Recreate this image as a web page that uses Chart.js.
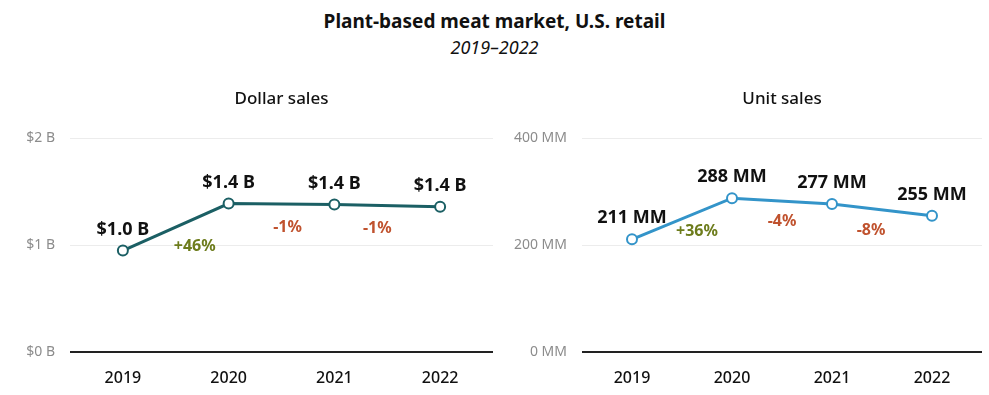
<!DOCTYPE html>
<html>
<head>
<meta charset="utf-8">
<script src="https://cdn.jsdelivr.net/npm/chart.js@4.4.1/dist/chart.umd.min.js"></script>
<style>
  body { margin: 0; background: #fff; font-family: "Noto Sans", sans-serif; }
  #wrap { position: relative; width: 989px; height: 395px; overflow: hidden; }
  .head { position: absolute; left: 0; width: 989px; text-align: center; color: #111; }
  #title { top: 8px; font-size: 19px; font-weight: 700; }
  #sub { top: 35px; font-size: 18px; font-style: italic; }
  .panel { position: absolute; top: 70px; height: 325px; }
</style>
</head>
<body>
<div id="wrap">
  <div class="head" id="title">Plant-based meat market, U.S. retail</div>
  <div class="head" id="sub">2019–2022</div>
  <div class="panel" style="left:0;width:500px"><canvas id="dollars"></canvas></div>
  <div class="panel" style="left:500px;width:489px"><canvas id="units"></canvas></div>
</div>
<script>
// data
const years = ["2019", "2020", "2021", "2022"];
const dollarSales = [0.95, 1.39, 1.38, 1.36];        // $ billions
const dollarLabels = ["$1.0 B", "$1.4 B", "$1.4 B", "$1.4 B"];
const dollarChange = ["+46%", "-1%", "-1%"];
const unitSales = [211, 288, 277, 255];              // millions of units
const unitLabels = ["211 MM", "288 MM", "277 MM", "255 MM"];
const unitChange = ["+36%", "-4%", "-8%"];

const FONT = "'Noto Sans', sans-serif";
const GREEN = "#6d7c1c";
const RED = "#c0522e";

// value labels above the points, % change under each segment
const pointLabels = {
  id: "pointLabels",
  afterDatasetsDraw(chart, args, opts) {
    const ctx = chart.ctx;
    const pts = chart.getDatasetMeta(0).data;
    ctx.save();
    ctx.textAlign = "center";
    ctx.textBaseline = "middle";
    ctx.font = "700 18px " + FONT;
    ctx.fillStyle = "#111";
    pts.forEach((p, i) => ctx.fillText(opts.values[i], p.x, p.y - 21));
    ctx.font = "700 16px " + FONT;
    for (let i = 0; i < pts.length - 1; i++) {
      const mx = (pts[i].x + pts[i + 1].x) / 2;
      const my = (pts[i].y + pts[i + 1].y) / 2;
      ctx.fillStyle = opts.changes[i].startsWith("+") ? GREEN : RED;
      ctx.fillText(opts.changes[i], mx + opts.dx[i], my + opts.dy[i]);
    }
    ctx.restore();
  }
};

function makeChart(id, name, data, color, max, step, fmt, values, changes, dx, dy, axisW, padRight) {
  return new Chart(id, {
    type: "line",
    data: {
      labels: years,
      datasets: [{
        data: data,
        borderColor: color,
        borderWidth: 3,
        pointBackgroundColor: "#fff",
        pointBorderColor: color,
        pointBorderWidth: 2,
        pointRadius: 5,
        tension: 0
      }]
    },
    options: {
      responsive: true,
      maintainAspectRatio: false,
      animation: false,
      layout: { padding: { left: 0, right: padRight, bottom: 0 } },
      plugins: {
        legend: { display: false },
        tooltip: { enabled: false },
        title: {
          display: true,
          text: name,
          fullSize: false,
          color: "#111",
          font: { family: FONT, size: 17, weight: "500" },
          padding: { top: 19, bottom: 29 }
        },
        pointLabels: { values: values, changes: changes, dx: dx, dy: dy }
      },
      scales: {
        x: {
          offset: true,
          grid: { display: false },
          border: { display: false },
          afterFit: s => { s.height = 43; },
          ticks: { color: "#111", font: { family: FONT, size: 16, weight: "500" }, padding: 9 }
        },
        y: {
          min: 0,
          max: max,
          border: { display: false },
          afterFit: s => { s.width = axisW; },
          grid: {
            drawTicks: false,
            color: c => c.tick.value === 0 ? "#222" : "#ececec",
            lineWidth: c => c.tick.value === 0 ? 2 : 1
          },
          ticks: {
            stepSize: step,
            padding: 15,
            color: "#8c8c8c",
            font: { family: FONT, size: 14 },
            callback: fmt
          }
        }
      }
    },
    plugins: [pointLabels]
  });
}

makeChart("dollars", "Dollar sales", dollarSales, "#1b5f64", 2, 1, v => "$" + v + " B",
  dollarLabels, dollarChange, [19, 6, -10], [19, 23, 23], 70, 3);
makeChart("units", "Unit sales", unitSales, "#3394c9", 400, 200, v => v + " MM",
  unitLabels, unitChange, [15, 0, -11], [13, 20, 20], 82, 7);
</script>
</body>
</html>
